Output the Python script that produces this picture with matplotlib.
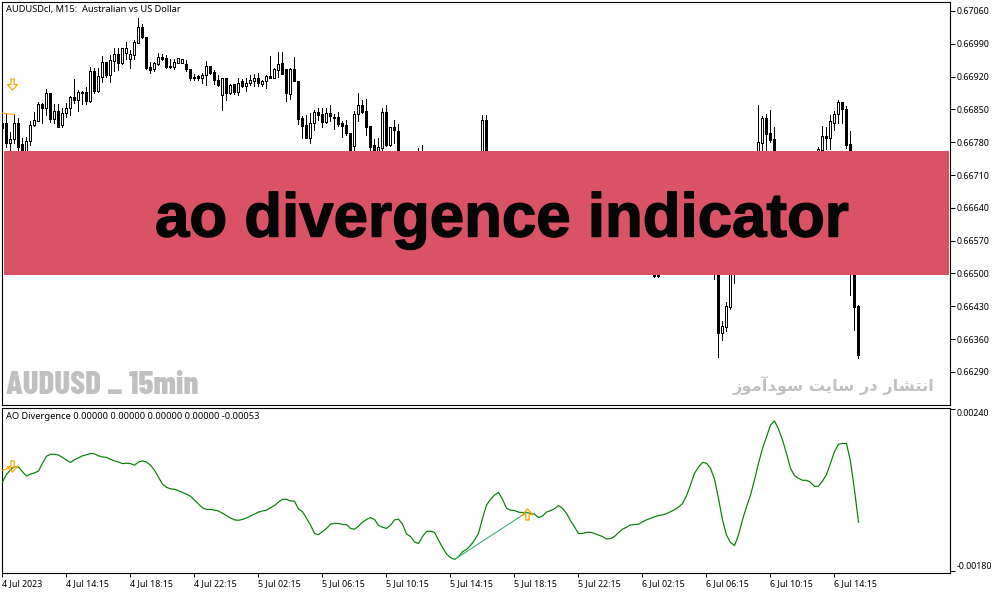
import matplotlib
matplotlib.use('Agg')
import matplotlib.pyplot as plt
import matplotlib.patheffects as pe
import numpy as np
from matplotlib.path import Path
from matplotlib.patches import Rectangle

W, H = 1003, 594
UI_FONT = ['Noto Sans', 'DejaVu Sans']

# candles, prices in points (1e-5). bars hidden behind the banner are left out
bar_index = list(range(100)) + [104, 105, 120, 121, 163, 164] + list(range(178, 184)) + list(range(189, 194)) + list(range(204, 215))
bar_open = [
    66820,66820,66779,66786,66820,66776,66755,66783,66816,66826,
    66862,66852,66886,66830,66846,66816,66842,66852,66876,66871,
    66887,66887,66869,66931,66890,66920,66951,66924,66954,66968,
    66948,66970,66958,66967,66992,67025,67004,66940,66936,66947,
    66961,66960,66943,66941,66950,66950,66947,66936,66920,66921,
    66916,66924,66943,66930,66913,66881,66918,66886,66904,66887,
    66910,66900,66906,66911,66917,66904,66910,66921,66917,66934,
    66948,66936,66883,66937,66911,66831,66816,66790,66820,66844,
    66840,66824,66842,66833,66833,66820,66816,66799,66771,66840,
    66859,66847,66815,66773,66750,66768,66844,66773,66812,66804,
    66745,66745,66700,66827,66520,66520,
    66520,66540,66372,66386,66429,66510,
    66720,66778,66831,66799,66787,
    66750,66763,66793,66788,66822,66840,66866,66850,66776,66700,66431]
bar_close = [
    66810,66779,66786,66820,66769,66753,66783,66816,66827,66862,
    66852,66884,66830,66846,66813,66842,66853,66876,66871,66887,
    66886,66869,66931,66890,66921,66951,66924,66955,66968,66948,
    66981,66981,66968,66994,67025,67004,66938,66934,66948,66961,
    66958,66940,66941,66951,66959,66957,66936,66917,66917,66916,
    66924,66943,66928,66913,66903,66918,66886,66903,66887,66906,
    66900,66906,66913,66917,66906,66910,66921,66918,66936,66947,
    66926,66884,66936,66911,66830,66815,66790,66820,66844,66839,
    66824,66842,66835,66832,66819,66815,66799,66760,66840,66859,
    66845,66813,66769,66750,66769,66844,66774,66812,66805,66750,
    66740,66740,66827,66700,66495,66495,
    66510,66372,66387,66430,66530,66520,
    66780,66831,66797,66785,66720,
    66765,66793,66788,66825,66840,66866,66850,66775,66510,66429,66326]
bar_high = [
    66831,66843,66802,66840,66831,66788,66792,66826,66845,66866,
    66864,66894,66886,66862,66862,66852,66863,66879,66914,66891,
    66890,66897,66941,66938,66938,66963,66951,66966,66980,66980,
    66982,66994,66977,66998,67044,67032,67004,66952,66952,66970,
    66968,66966,66957,66957,66960,66958,66955,66936,66926,66924,
    66928,66953,66943,66934,66923,66918,66918,66904,66904,66918,
    66914,66916,66923,66926,66928,66913,66923,66963,66938,66972,
    66972,66936,66938,66961,66911,66835,66838,66843,66849,66852,
    66852,66852,66859,66840,66844,66826,66827,66799,66847,66886,
    66870,66872,66815,66787,66788,66852,66859,66813,66827,66819,
    66768,66774,66838,66838,66530,66530,
    66540,66550,66398,66438,66540,66530,
    66859,66836,66840,66849,66813,
    66769,66815,66812,66838,66847,66870,66866,66857,66804,66720,66433]
bar_low = [
    66802,66770,66760,66778,66763,66745,66750,66775,66815,66825,
    66820,66838,66824,66820,66812,66813,66833,66838,66863,66847,
    66862,66862,66866,66886,66888,66909,66920,66908,66933,66934,
    66947,66957,66938,66957,66991,67002,66936,66928,66931,66945,
    66955,66938,66938,66937,66948,66948,66931,66913,66913,66913,
    66907,66903,66926,66904,66899,66849,66871,66883,66883,66881,
    66897,66889,66902,66900,66899,66900,66895,66917,66916,66920,
    66926,66869,66873,66911,66819,66790,66788,66779,66805,66827,
    66813,66822,66826,66809,66815,66792,66796,66755,66762,66826,
    66843,66796,66760,66745,66745,66762,66772,66772,66779,66745,
    66735,66735,66690,66690,66493,66493,
    66488,66322,66358,66378,66424,66480,
    66700,66750,66750,66781,66710,
    66745,66755,66766,66766,66805,66820,66822,66767,66454,66379,66320]

# AO line per bar, same 1e-5 units
ao_line = [
    51,70,82,90,89,77,66,71,74,79,99,117,122,122,120,114,107,101,108,113,
    118,121,124,123,118,115,114,109,105,102,98,99,98,94,102,105,102,94,81,63,
    45,37,33,32,28,24,19,14,4,-6,-16,-20,-20,-22,-24,-30,-36,-42,-47,-48,
    -46,-42,-37,-32,-27,-24,-22,-16,-10,-1,6,6,2,1,-19,-26,-43,-60,-82,-85,
    -77,-69,-58,-56,-56,-59,-59,-69,-71,-63,-53,-46,-41,-46,-61,-66,-69,-61,-47,-45,
    -58,-83,-90,-104,-108,-90,-77,-76,-79,-99,-118,-135,-144,-149,-142,-129,-123,-113,-99,-82,
    -43,-9,6,17,24,6,-17,-22,-23,-27,-28,-28,-30,-32,-41,-37,-27,-23,-18,-10,
    -17,-30,-49,-65,-82,-82,-79,-79,-82,-86,-90,-96,-95,-90,-80,-71,-66,-60,-59,-58,
    -52,-47,-43,-39,-36,-34,-31,-26,-21,-14,-5,15,43,73,89,101,99,86,58,8,
    -47,-86,-105,-113,-86,-47,-13,17,56,99,137,167,197,208,187,159,124,86,67,60,
    55,55,50,39,40,53,70,99,129,148,150,150,103,30,-53]

# signal markers and divergence lines
main_arrow = (2.5, 66905)
main_signal_x, main_signal_y = [0, 3], [66842, 66839]
sub_down_arrow = (2.5, 93)
sub_up_arrow = (131.2, -32)
sub_signal_x, sub_signal_y = [0, 3], [81, 90]
div_x, div_y = [113, 131], [-149, -28]

price_ticks = [67060,66990,66920,66850,66780,66710,66640,66570,66500,66430,66360,66290]
sub_ticks = [240, -180]
time_ticks = list(range(0, 216, 16))
time_labels = ['4 Jul 2023', '4 Jul 14:15', '4 Jul 18:15', '4 Jul 22:15',
               '5 Jul 02:15', '5 Jul 06:15', '5 Jul 10:15', '5 Jul 14:15', '5 Jul 18:15', '5 Jul 22:15',
               '6 Jul 02:15', '6 Jul 06:15', '6 Jul 10:15', '6 Jul 14:15']

# arabic shaped by hand (matplotlib has no shaping or bidi), this is
# "انتشار در سایت سودآموز" in visual order with presentation forms
persian_note = ('\uFEAF\uFEEE\uFEE3\uFE81\uFEAA\uFEEE\uFEB3 '
                '\uFE96\uFEF3\uFE8E\uFEB3 '
                '\uFEAD\uFEA9 '
                '\uFEAD\uFE8E\uFEB8\uFE98\uFEE7\uFE8D')

ARROW_DOWN = Path([(-1.5,5),(1.5,5),(1.5,0),(4.5,0),(0,-5),(-4.5,0),(-1.5,0),(-1.5,5)], closed=True)
ARROW_UP = Path([(-1.5,-5),(1.5,-5),(1.5,0),(4.5,0),(0,5),(-4.5,0),(-1.5,0),(-1.5,-5)], closed=True)


def px_axes(fig, left, top, right, bottom):
    return fig.add_axes([left / W, 1 - bottom / H, (right - left) / W, (bottom - top) / H])


def style_axes(ax, size=6.4):
    for s in ax.spines.values():
        s.set_linewidth(0.8)
    ax.yaxis.tick_right()
    ax.tick_params(axis='y', length=3.6, width=0.72, pad=1.2, labelsize=size)
    ax.tick_params(axis='x', length=2.6, width=0.72, labelsize=size)
    # one bar is 4 px, bar 0 sits at x=2.5 px
    ax.set_xlim((left_px - 2.5) / 4, (right_px - 2.5) / 4)
    for lab in ax.get_xticklabels() + ax.get_yticklabels():
        lab.set_family(UI_FONT)


left_px, right_px = 2.5, 950
fig = plt.figure(figsize=(W / 100, H / 100), dpi=100, facecolor='white')

# main window
ax = px_axes(fig, left_px, 2.5, right_px, 405)
ax.set_ylim(66219.2e-5, 67079.2e-5 - (0.5 * 2.134e-5))
idx = np.array(bar_index)
o = np.array(bar_open) / 1e5
c = np.array(bar_close) / 1e5
hi = np.array(bar_high) / 1e5
lo = np.array(bar_low) / 1e5
ax.vlines(idx, lo, hi, color='black', linewidth=0.7, antialiased=False, zorder=2)
up = c >= o
ax.bar(idx[up], (c - o)[up], bottom=o[up], width=0.5, facecolor='white', edgecolor='black',
       linewidth=0.7, antialiased=False, zorder=3)
ax.bar(idx[~up], (o - c)[~up], bottom=c[~up], width=0.5, facecolor='black', edgecolor='black',
       linewidth=0.7, antialiased=False, zorder=3)
ax.plot(main_signal_x, np.array(main_signal_y) / 1e5, color='orange', lw=0.8, zorder=4)
ax.plot([main_arrow[0]], [main_arrow[1] / 1e5], marker=ARROW_DOWN, ms=8, mfc='none', mec='orange', mew=0.9, zorder=4)
ax.set_xticks([])
ax.set_yticks(np.array(price_ticks) / 1e5)
ax.set_yticklabels(['%.5f' % (p / 1e5) for p in price_ticks])
style_axes(ax)
ax.text(6.5 / W, 1 - 9.5 / H, 'AUDUSDcl, M15:  Australian vs US Dollar', transform=fig.transFigure,
        family=UI_FONT, fontsize=6.7, va='center', ha='left', color='black')

# AO Divergence window
ax2 = px_axes(fig, left_px, 407.5, right_px, 573)
ax2.set_ylim(-0.0018 - 1.5 * 2.577e-5, 0.0024 + 1 * 2.577e-5)
ax2.plot(range(len(ao_line)), np.array(ao_line) / 1e5, color='#008000', lw=0.85, zorder=3)
ax2.plot(sub_signal_x, np.array(sub_signal_y) / 1e5, color='orange', lw=0.8, zorder=4)
ax2.plot(div_x, np.array(div_y) / 1e5, color='#3cb371', lw=0.8, zorder=4)
ax2.plot([sub_down_arrow[0]], [sub_down_arrow[1] / 1e5], marker=ARROW_DOWN, ms=8, mfc='none', mec='orange', mew=0.9, zorder=5)
ax2.plot([sub_up_arrow[0]], [sub_up_arrow[1] / 1e5], marker=ARROW_UP, ms=8, mfc='none', mec='orange', mew=0.9, zorder=5)
ax2.set_yticks(np.array(sub_ticks) / 1e5)
ax2.set_yticklabels(['%.5f' % (v / 1e5) for v in sub_ticks])
ax2.set_xticks(time_ticks)
ax2.set_xticklabels(time_labels, ha='left')
style_axes(ax2)
ylabs = ax2.get_yticklabels()
ylabs[0].set_va('top')
ylabs[1].set_va('bottom')
ax2.tick_params(axis='x', pad=2)
ax2.text(6 / W, 1 - 416.5 / H, 'AO Divergence 0.00000 0.00000 0.00000 0.00000 -0.00053', transform=fig.transFigure,
         family=UI_FONT, fontsize=6.7, va='center', ha='left', color='black')

# banner and watermarks sit on top of the windows
fig.add_artist(Rectangle((4 / W, 1 - 275 / H), (949.5 - 4) / W, 124 / H, transform=fig.transFigure,
                         facecolor='#d95266', edgecolor='none', zorder=5))
fig.text(501.5 / W, 1 - 236.5 / H, 'ao divergence indicator', family='Liberation Sans', weight='bold',
         fontsize=44.5, color='#050505', ha='center', va='baseline', zorder=6,
         path_effects=[pe.withStroke(linewidth=1.0, foreground='#050505', joinstyle='round')])
fig.text(6 / W, 1 - 385 / H, 'AUDUSD _ 15min', family=['Barlow Condensed', 'DejaVu Sans'], weight=800,
         fontsize=23.8, color='#c0c0c0', ha='left', va='center', zorder=6)
fig.text(935 / W, 1 - 385 / H, persian_note, family='DejaVu Sans', weight='bold',
         fontsize=11.7, color='#c0c0c0', ha='right', va='center', zorder=6)

fig.savefig('out.png', dpi=100)
